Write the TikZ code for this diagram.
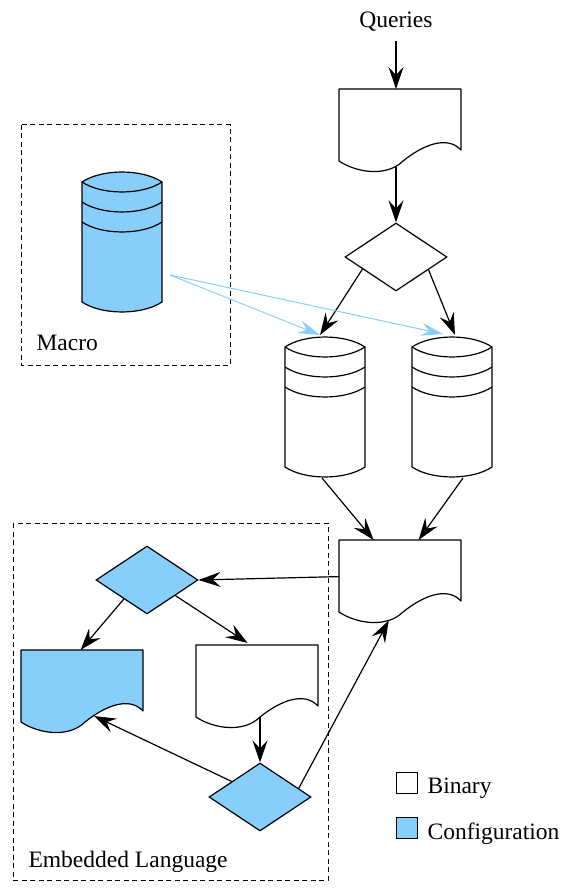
\documentclass[tikz,border=0pt]{standalone}
\usepackage{fontspec}
\setmainfont{Liberation Serif}
\newfontfamily\labelfont{Liberation Serif}
\usetikzlibrary{arrows.meta,shapes.geometric,calc}

\definecolor{cfgblue}{RGB}{135,206,250}

\tikzset{
  % document symbol with a wavy lower edge (122 x 72, origin at top left)
  docpic/.pic={
    \path[draw, fill=#1, line join=round]
      (0,0) -- (122,0) -- (122,61)
      .. controls (108,46) and (84,56) .. (64,72)
      .. controls (48,88) and (18,84) .. (0,72) -- cycle;
    \node[inner sep=0, minimum width=122pt, minimum height=72pt, anchor=north west] (-box) at (0,0) {};
    \coordinate (-s)  at (57,78);
    \coordinate (-sb) at (49.8,80.4);
    \coordinate (-m)  at (64,72);
    \coordinate (-w)  at (73,66);
  },
  % database cylinder with two bands (80 wide, origin at the left end of the rim)
  cylpic/.pic={
    \path[draw, fill=#1]
      (0,0) .. controls (20,-13.3) and (60,-13.3) .. (80,0) -- (80,120)
      .. controls (60,133.3) and (20,133.3) .. (0,120) -- cycle;
    \draw (0,0)  .. controls (20,13.3) and (60,13.3) .. (80,0);
    \draw (0,20) .. controls (20,33.3) and (60,33.3) .. (80,20);
    \draw (0,40) .. controls (20,53.3) and (60,53.3) .. (80,40);
    \node[inner sep=0, minimum width=80pt, minimum height=140pt] (-box) at (40,60) {};
    \coordinate (-n) at (40,-10);
    \coordinate (-s) at (40,130);
  },
  diam/.style={shape=diamond, draw, inner sep=0, minimum width=102pt, minimum height=68pt},
  arr/.style={-{Stealth[length=22pt,width=15pt,inset=8pt]}},
  cfgarr/.style={draw=cfgblue, line width=1pt, -{Stealth[length=22pt,width=13pt,inset=8pt]}},
  group/.style={draw, dash pattern=on 5pt off 3.5pt, line width=1pt},
  lbl/.style={inner sep=0, font=\labelfont\fontsize{23.5}{28}\selectfont},
  keybox/.style={draw, minimum size=21pt, inner sep=0, anchor=north west},
}

\begin{document}
\begin{tikzpicture}[x=1pt, y=-1pt, line width=1.2pt]
\useasboundingbox (0,0) rectangle (563,890);

% group frames
\draw[group] (21,125) rectangle (230,365);
\draw[group] (13,523) rectangle (328,880);
\node[lbl, anchor=base west] (macro) at (36,350) {Macro};
\node[lbl, anchor=base west] (emb) at (28,867) {Embedded Language};

% main chain
\node[lbl, anchor=base] (q) at (396,28) {Queries};
\pic (d1) at (339,89) {docpic=white};
\node[diam, fill=white] (dm1) at (396,257) {};
\pic (c1) at (285,347) {cylpic=white};
\pic (c2) at (412,347) {cylpic=white};
\pic (d2) at (339,540) {docpic=white};

% macro store
\pic (mc) at (82,182) {cylpic=cfgblue};
\coordinate (src) at (170,275);

% embedded language part
\node[diam, fill=cfgblue] (dm2) at (147,580) {};
\pic (bd) at (21,650) {docpic=cfgblue};
\pic (wd) at (196,645) {docpic=white};
\node[diam, fill=cfgblue] (dm3) at (260,797) {};

% connectors
\draw[arr, shorten <=9pt] (q.south) -- (q.south |- d1-box.north);
\draw[arr] (d1-s) -- (dm1.north);
\draw[arr] ($(dm1.west)!0.35!(dm1.south)$) -- ($(c1-n)+(-5,-2)$);
\draw[arr] ($(dm1.east)!0.37!(dm1.south)$) -- ($(c2-n)+(3,-2)$);
\draw[cfgarr] (src) -- ($(c1-n)+(-5,-2)$);
\draw[cfgarr] (src) -- ($(c2-n)+(-9,-3)$);
\draw[arr] ($(c1-s)+(-3,1)$) -- ($(d2-box.north)+(-27,0)$);
\draw[arr] ($(c2-s)+(11,1)$) -- ($(d2-box.north)+(18,0)$);
\draw[arr] (d2-box.west) -- (dm2.east);
\draw[arr] ($(dm2.west)!0.55!(dm2.south)$) -- ($(bd-box.north)+(-2,0)$);
\draw[arr] ($(dm2.east)!0.45!(dm2.south)$) -- ($(wd-box.north)+(-10,-2)$);
\draw[arr] (wd-m) -- (dm3.north);
\draw[arr] ($(dm3.north)!0.55!(dm3.west)$) -- (bd-w);
\draw[arr] ($(dm3.east)!0.25!(dm3.north)$) -- (d2-sb);

% legend
\node[keybox, fill=white] (kb) at (396,772) {};
\node[lbl, anchor=base west] (kbt) at (427,793) {Binary};
\node[keybox, fill=cfgblue] (kc) at (396,817) {};
\node[lbl, anchor=base west] (kct) at (427,839) {Configuration};
\end{tikzpicture}
\end{document}
